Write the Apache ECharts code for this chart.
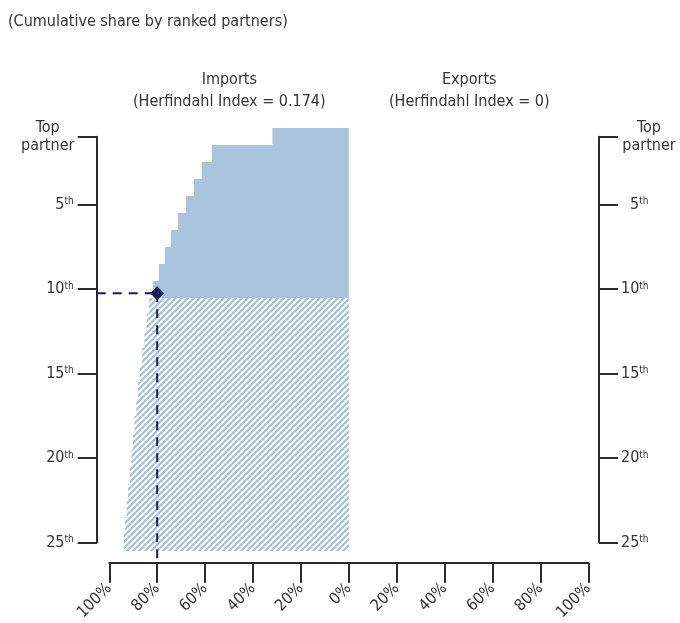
<!DOCTYPE html>
<html><head><meta charset="utf-8">
<script src="https://cdn.jsdelivr.net/npm/echarts@6/dist/echarts.min.js"></script>
<style>html,body{margin:0;padding:0;background:#fff}#c{width:680px;height:623px}</style>
</head><body><div id="c"></div>
<script>
// ---- data ----
const ranks = [1, 2, 3, 4, 5, 6, 7, 8, 9, 10, 11, 12, 13, 14, 15, 16, 17, 18, 19, 20, 21, 22, 23, 24, 25];
const importShares = [31.9, 57.2, 61.4, 64.7, 68.0, 71.3, 74.3, 76.8, 79.3, 81.7, 83.4, 84.4, 85.4, 86.3, 87.2, 88.0, 88.8, 89.5, 90.1, 90.8, 91.5, 92.2, 92.8, 93.4, 94.0];
const importKind = ['solid','solid','solid','solid','solid','solid','solid','solid','solid','solid',
  'hatch','hatch','hatch','hatch','hatch','hatch','hatch','hatch','hatch','hatch','hatch','hatch','hatch','hatch','hatch'];
const exportShares = [];           // Herfindahl Index = 0 : nothing drawn
const markerShare = [80];
const markerRank = [10.25];
const xTickValues = [-100, -80, -60, -40, -20, 0, 20, 40, 60, 80, 100];
const rankTickValues = [1, 5, 10, 15, 20, 25];
const subtitle = '(Cumulative share by ranked partners)';
const importTitle = 'Imports\n(Herfindahl Index = 0.174)';
const exportTitle = 'Exports\n(Herfindahl Index = 0)';

// ---- style ----
const FONT = "'Liberation Sans Narrow','DejaVu Sans Condensed','Roboto',sans-serif";
const TXT = '#333333';
const AX = '#2a2a2a';
const FILL = '#a9c4dc';
const HATCH = '#a3c0da';
const NAVY = '#1c1a5e';
const Y_OFF_L = 12.6, Y_OFF_R = 10.7, X_OFF = 20.3;

function hatchCanvas() {
  const p = 6;
  const c = document.createElement('canvas');
  c.width = p; c.height = p;
  const g = c.getContext('2d');
  g.strokeStyle = HATCH; g.lineWidth = 2.1;
  for (const k of [-1, 0, 1]) {
    g.beginPath(); g.moveTo(k * p - 1, p + 1); g.lineTo(k * p + p + 1, -1); g.stroke();
  }
  return c;
}
const hatch = { image: hatchCanvas(), repeat: 'repeat' };

const barData = ranks.map((r, i) => [-importShares[i], r, importKind[i] === 'hatch' ? 1 : 0]);

const leftRich = {
  n: { fontSize: 16, fontFamily: FONT, color: TXT },
  s: { fontSize: 10, fontFamily: FONT, color: TXT, verticalAlign: 'top', lineHeight: 12 },
  c: { fontSize: 16, fontFamily: FONT, color: TXT, width: 52, align: 'center', lineHeight: 18 }
};
const rightRich = {
  p: { width: 9 },
  n: { fontSize: 16, fontFamily: FONT, color: TXT },
  s: { fontSize: 10, fontFamily: FONT, color: TXT, verticalAlign: 'top', lineHeight: 12 },
  c: { fontSize: 16, fontFamily: FONT, color: TXT, width: 56, align: 'center', lineHeight: 18 }
};
const leftFmt = v => v === 1 ? '{c|Top}\n{c|partner}' : '{n|' + v + '}{s|th}';
const rightFmt = v => v === 1 ? '{c|Top}\n{c|partner}' : (v < 10 ? '{p|}' : '') + '{n|' + v + '}{s|th}';

const yCommon = {
  type: 'value', min: 1, max: 25, inverse: true,
  axisLine: { show: true, onZero: false, lineStyle: { color: AX, width: 2 } },
  axisTick: { show: true, length: 19, lineStyle: { color: AX, width: 2 }, customValues: rankTickValues },
  splitLine: { show: false }
};

const chart = echarts.init(document.getElementById('c'), null, { renderer: 'canvas' });
chart.setOption({
  animation: false,
  backgroundColor: '#fff',
  grid: { left: 109.3, right: 90.7, top: 136.8, bottom: 80, containLabel: false },
  xAxis: {
    type: 'value', min: -100, max: 100, interval: 20, offset: X_OFF,
    axisLine: { show: true, onZero: false, lineStyle: { color: AX, width: 2 } },
    axisTick: { show: true, length: 19.5, lineStyle: { color: AX, width: 2 } },
    splitLine: { show: false },
    axisLabel: {
      rotate: 45, margin: 23, fontSize: 16, fontFamily: FONT, color: TXT,
      customValues: xTickValues,
      formatter: v => Math.abs(v) + '%'
    }
  },
  yAxis: [
    Object.assign({}, yCommon, {
      position: 'left', offset: Y_OFF_L,
      axisLabel: { margin: 23, customValues: rankTickValues, formatter: leftFmt, rich: leftRich }
    }),
    Object.assign({}, yCommon, {
      position: 'right', offset: Y_OFF_R,
      axisLabel: { margin: 22, align: 'left', customValues: rankTickValues, formatter: rightFmt, rich: rightRich }
    })
  ],
  graphic: [
    { type: 'text', x: 8, y: 22, style: { text: subtitle, fontSize: 16, fontFamily: FONT, fill: TXT, verticalAlign: 'middle' } },
    { type: 'text', x: 229.3, y: 91, style: { text: importTitle, fontSize: 16, fontFamily: FONT, fill: TXT, align: 'center', verticalAlign: 'middle', lineHeight: 22 } },
    { type: 'text', x: 469.3, y: 91, style: { text: exportTitle, fontSize: 16, fontFamily: FONT, fill: TXT, align: 'center', verticalAlign: 'middle', lineHeight: 22 } }
  ],
  series: [
    {
      type: 'custom', name: 'Imports', xAxisIndex: 0, yAxisIndex: 0, z: 2,
      data: barData, encode: { x: 0, y: 1 },
      renderItem: (params, api) => {
        const share = api.value(0), r = api.value(1), kind = api.value(2);
        const a = api.coord([share, r - 0.5]);
        const b = api.coord([0, r + 0.5]);
        const y0 = Math.round(a[1]), y1 = Math.round(b[1]);
        return {
          type: 'rect',
          shape: { x: a[0], y: y0, width: b[0] - a[0], height: y1 - y0 },
          style: { fill: kind === 1 ? hatch : FILL }
        };
      }
    },
    {
      type: 'custom', name: 'Exports', xAxisIndex: 0, yAxisIndex: 0, z: 2,
      data: exportShares.map((v, i) => [v, ranks[i]]),
      renderItem: (params, api) => {
        const a = api.coord([0, api.value(1) - 0.5]);
        const b = api.coord([api.value(0), api.value(1) + 0.5]);
        return { type: 'rect', shape: { x: a[0], y: a[1], width: b[0] - a[0], height: b[1] - a[1] }, style: { fill: FILL } };
      }
    },
    {
      type: 'custom', name: 'guides', xAxisIndex: 0, yAxisIndex: 0, z: 5,
      data: markerShare.map((s, i) => [-s, markerRank[i]]),
      renderItem: (params, api) => {
        const p = api.coord([api.value(0), api.value(1)]);
        const cs = params.coordSys;
        const st = { stroke: NAVY, lineWidth: 2, lineDash: [9, 7] };
        return {
          type: 'group', children: [
            { type: 'line', shape: { x1: cs.x - Y_OFF_L, y1: p[1], x2: p[0], y2: p[1] }, style: st },
            { type: 'line', shape: { x1: p[0], y1: p[1], x2: p[0], y2: cs.y + cs.height + X_OFF }, style: st }
          ]
        };
      }
    },
    {
      type: 'scatter', name: 'marker', xAxisIndex: 0, yAxisIndex: 0, z: 6,
      symbol: 'diamond', symbolSize: 14,
      itemStyle: { color: NAVY, opacity: 1 },
      data: markerShare.map((s, i) => [-s, markerRank[i]])
    }
  ]
});
</script>
</body></html>
